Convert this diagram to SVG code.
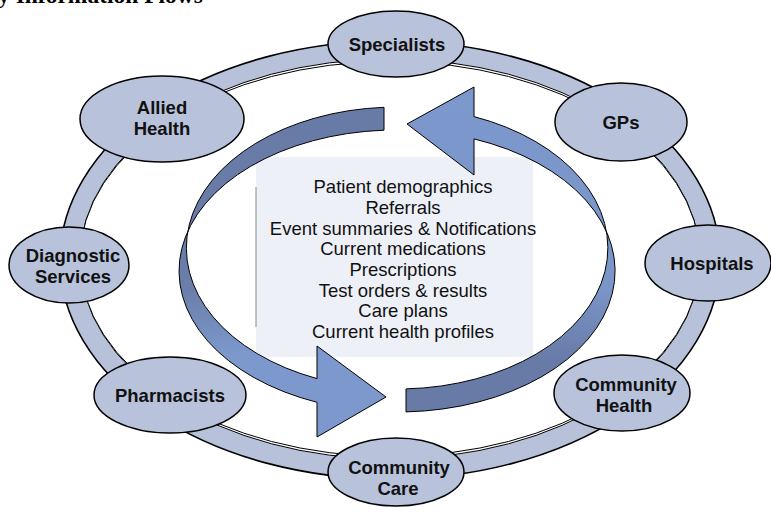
<svg xmlns="http://www.w3.org/2000/svg" width="771" height="512" viewBox="0 0 771 512">
  <defs>
    <style>
      .node { fill: #b8c3db; stroke: #000; stroke-width: 1.5; }
      .lbl { font-family: "Liberation Sans", Arial, sans-serif; font-weight: bold; font-size: 18.5px; fill: #111; text-anchor: middle; }
      .info { font-family: "Liberation Sans", Arial, sans-serif; font-size: 18.5px; fill: #111; text-anchor: middle; }
      .arrow { stroke: #000; stroke-width: 1; }
    </style>
    <linearGradient id="gLeft" gradientUnits="userSpaceOnUse" x1="0" y1="107" x2="0" y2="437">
      <stop offset="0" stop-color="#687aa6"/>
      <stop offset="0.55" stop-color="#6a7ea9"/>
      <stop offset="0.75" stop-color="#7c98cc"/>
      <stop offset="1" stop-color="#7c98cc"/>
    </linearGradient>
    <linearGradient id="gRight" gradientUnits="userSpaceOnUse" x1="0" y1="87" x2="0" y2="412">
      <stop offset="0" stop-color="#7c98cc"/>
      <stop offset="0.62" stop-color="#7a95c8"/>
      <stop offset="0.85" stop-color="#687aa6"/>
      <stop offset="1" stop-color="#687aa6"/>
    </linearGradient>
  </defs>

  <text x="-2" y="3" style="font-family: 'Liberation Serif', 'Times New Roman', serif; font-weight: bold; font-size: 23.5px; fill: #000;">y Information Flows</text>

  <g id="ring">
    <ellipse cx="390" cy="260" rx="330" ry="219" fill="#b7c2da" stroke="#000" stroke-width="1.6"/>
    <ellipse cx="390" cy="259" rx="310" ry="200" fill="#fff" stroke="#000" stroke-width="1"/>
    <ellipse cx="390" cy="259" rx="310" ry="197.5" fill="#fff" stroke="#000" stroke-width="1"/>
  </g>

  <g id="info-box">
    <rect x="256" y="157" width="277" height="200" fill="#edf0f7"/>
    <line x1="256" y1="187" x2="256" y2="327" stroke="#8a8a8a" stroke-width="1"/>
  </g>

  <g id="connectors">
    <path id="arrow-left" class="arrow" fill="url(#gLeft)" d="M 384 107.3 A 210 141 0 0 0 317 378.6 L 317 346 L 386 397 L 317 437 L 317 402.3 A 217 141 0 0 1 384 130.2 Z"/>
    <path id="arrow-right" class="arrow" fill="url(#gRight)" d="M 406 388.9 A 210 141 0 0 0 474 116.6 L 474 87 L 407 124 L 474 175 L 474 138.9 A 217 141 0 0 1 406 411.9 Z"/>
  </g>

  <g id="info-text">
    <text class="info" x="403" y="193">Patient demographics</text>
    <text class="info" x="403" y="214">Referrals</text>
    <text class="info" x="403" y="234.5">Event summaries &amp; Notifications</text>
    <text class="info" x="403" y="255">Current medications</text>
    <text class="info" x="403" y="276">Prescriptions</text>
    <text class="info" x="403" y="297">Test orders &amp; results</text>
    <text class="info" x="403" y="317">Care plans</text>
    <text class="info" x="403" y="338">Current health profiles</text>
  </g>

  <g id="specialists">
    <ellipse class="node" cx="396" cy="44" rx="68" ry="33"/>
    <text class="lbl" x="397" y="51">Specialists</text>
  </g>
  <g id="gps">
    <ellipse class="node" cx="621" cy="122" rx="66" ry="39"/>
    <text class="lbl" x="621" y="129">GPs</text>
  </g>
  <g id="hospitals">
    <ellipse class="node" cx="708" cy="263" rx="63" ry="38"/>
    <text class="lbl" x="712" y="270">Hospitals</text>
  </g>
  <g id="community-health">
    <ellipse class="node" cx="622" cy="393" rx="68" ry="38"/>
    <text class="lbl" x="626" y="391">Community</text>
    <text class="lbl" x="624" y="412">Health</text>
  </g>
  <g id="community-care">
    <ellipse class="node" cx="396" cy="472" rx="68" ry="34"/>
    <text class="lbl" x="399" y="474">Community</text>
    <text class="lbl" x="398" y="495">Care</text>
  </g>
  <g id="pharmacists">
    <ellipse class="node" cx="170" cy="395" rx="76" ry="38"/>
    <text class="lbl" x="170" y="402">Pharmacists</text>
  </g>
  <g id="diagnostic-services">
    <ellipse class="node" cx="69" cy="265" rx="60" ry="38"/>
    <text class="lbl" x="73" y="262">Diagnostic</text>
    <text class="lbl" x="73" y="283">Services</text>
  </g>
  <g id="allied-health">
    <ellipse class="node" cx="162" cy="119" rx="82" ry="43"/>
    <text class="lbl" x="162" y="114">Allied</text>
    <text class="lbl" x="162" y="135">Health</text>
  </g>
</svg>
